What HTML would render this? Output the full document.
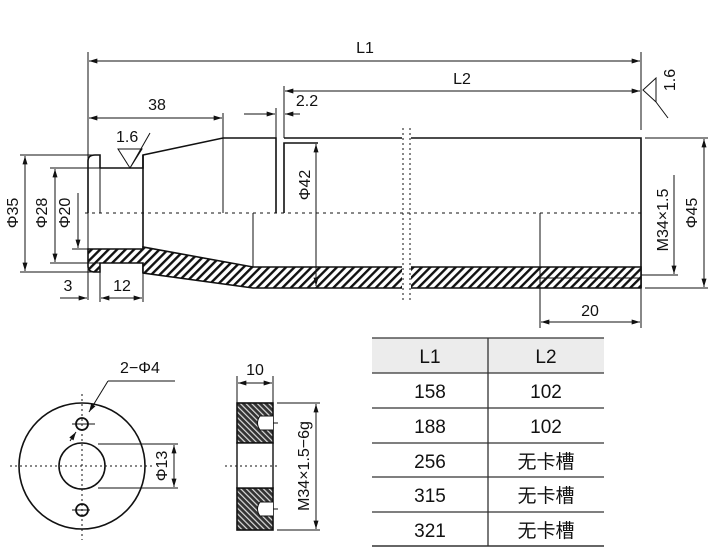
<!DOCTYPE html>
<html><head><meta charset="utf-8"><style>
body{margin:0;background:#fff}
svg{display:block}
text{font-family:"Liberation Sans",sans-serif;fill:#111}
</style></head><body>
<svg width="714" height="560" viewBox="0 0 714 560" xmlns="http://www.w3.org/2000/svg">
<defs>
<pattern id="h" width="6" height="6" patternUnits="userSpaceOnUse" patternTransform="rotate(45)">
<rect width="6" height="6" fill="#fff"/><rect width="2.4" height="6" fill="#111"/></pattern>
<pattern id="h2" width="4" height="4" patternUnits="userSpaceOnUse" patternTransform="rotate(-45)">
<rect width="4" height="4" fill="#333"/><rect width="1.2" height="4" fill="#ddd"/></pattern>
<marker id="a" viewBox="0 0 10 6" refX="10" refY="3" markerWidth="9" markerHeight="5" orient="auto-start-reverse" markerUnits="userSpaceOnUse"><path d="M0,0L10,3L0,6z" fill="#111"/></marker>
</defs>
<g stroke="#111" fill="none" stroke-width="1">
<line x1="88" y1="52" x2="88" y2="300"/>
<line x1="641" y1="52" x2="641" y2="130"/>
<line x1="89" y1="61" x2="640" y2="61" marker-start="url(#a)" marker-end="url(#a)"/>
<line x1="284" y1="86" x2="284" y2="138"/>
<line x1="285" y1="91" x2="640" y2="91" marker-start="url(#a)" marker-end="url(#a)"/>
<line x1="89" y1="118" x2="222" y2="118" marker-start="url(#a)" marker-end="url(#a)"/>
<line x1="223" y1="113" x2="223" y2="213"/>
<line x1="276" y1="108" x2="276" y2="138"/>
<line x1="244" y1="114" x2="275" y2="114" marker-end="url(#a)"/>
<line x1="300" y1="114" x2="285" y2="114" marker-end="url(#a)"/>
<path d="M88,213 L88,161 Q88,155 95,155 L100,155 L100,168 M100,168 L143,168 L143,155 L223,138 L276,138 L276,213 M284,213 L284,143 L318,143 M284,138 L402,138 M411,138 L641,138 L641,288" stroke-width="1.6"/>
<line x1="100" y1="168" x2="100" y2="213"/>
<line x1="143" y1="155" x2="143" y2="273" stroke-width="1.6"/>
<line x1="253" y1="213" x2="253" y2="267"/>
<path d="M88,249 L143,249 L143,247 L253,267 L641,267 L641,288 L253,288 L143,273 L143,263 L100,263 L100,272 L95,272 Q88,272 88,266 Z" fill="url(#h)" stroke-width="1.6"/>
<line x1="540" y1="278" x2="641" y2="278"/>
<line x1="72" y1="249" x2="88" y2="249"/>
<rect x="402" y="130" width="9" height="170" fill="#fff" stroke="none"/>
<line x1="403" y1="128" x2="403" y2="300" stroke-dasharray="2,3"/>
<line x1="410" y1="128" x2="410" y2="300" stroke-dasharray="2,3"/>
<line x1="85" y1="213" x2="645" y2="213" stroke-dasharray="3,4"/>
<line x1="20" y1="155" x2="92" y2="155"/>
<line x1="20" y1="272" x2="92" y2="272"/>
<line x1="25" y1="156" x2="25" y2="271" marker-start="url(#a)" marker-end="url(#a)"/>
<line x1="50" y1="168" x2="100" y2="168"/>
<line x1="50" y1="263" x2="100" y2="263"/>
<line x1="55" y1="169" x2="55" y2="262" marker-start="url(#a)" marker-end="url(#a)"/>
<line x1="78" y1="193" x2="78" y2="248" marker-end="url(#a)"/>
<line x1="100" y1="272" x2="100" y2="302"/>
<line x1="143" y1="273" x2="143" y2="302"/>
<line x1="60" y1="298" x2="87" y2="298" marker-end="url(#a)"/>
<line x1="120" y1="298" x2="101" y2="298" marker-end="url(#a)"/>
<line x1="105" y1="298" x2="142" y2="298" marker-end="url(#a)"/>
<line x1="316" y1="144" x2="316" y2="286" marker-start="url(#a)" marker-end="url(#a)"/>
<line x1="645" y1="138" x2="708" y2="138"/>
<line x1="645" y1="288" x2="708" y2="288"/>
<line x1="704" y1="139" x2="704" y2="287" marker-start="url(#a)" marker-end="url(#a)"/>
<line x1="641" y1="275" x2="678" y2="275"/>
<line x1="674" y1="175" x2="674" y2="274" marker-end="url(#a)"/>
<line x1="540" y1="213" x2="540" y2="328"/>
<line x1="641" y1="288" x2="641" y2="328"/>
<line x1="541" y1="322" x2="640" y2="322" marker-start="url(#a)" marker-end="url(#a)"/>
<path d="M118,149 L142,149 L130,168 Z M130,168 L150,133"/>
<path d="M643,90 L656,78 L656,102 Z M656,102 L668,118"/>
<circle cx="82" cy="466" r="63" stroke-width="1.6"/>
<circle cx="82" cy="466" r="23" stroke-width="1.6"/>
<circle cx="82" cy="424" r="6" stroke-width="1.8"/>
<circle cx="82" cy="510" r="6" stroke-width="1.8"/>
<line x1="72" y1="424" x2="95" y2="424"/><line x1="72" y1="510" x2="90" y2="510"/>
<line x1="10" y1="466" x2="155" y2="466" stroke-dasharray="2,3"/>
<line x1="82" y1="394" x2="82" y2="540" stroke-dasharray="2,3"/>
<line x1="98" y1="444" x2="178" y2="444"/>
<line x1="98" y1="488" x2="178" y2="488"/>
<line x1="174" y1="445" x2="174" y2="487" marker-start="url(#a)" marker-end="url(#a)"/>
<line x1="175" y1="381" x2="108" y2="381"/>
<path d="M108,381 L89,412" marker-end="url(#a)"/>
<line x1="70" y1="441" x2="76" y2="432" marker-end="url(#a)"/>
<rect x="237" y="403" width="36" height="40" fill="url(#h2)" stroke-width="1.6"/>
<rect x="237" y="488" width="36" height="42" fill="url(#h2)" stroke-width="1.6"/>
<rect x="237" y="443" width="36" height="45" fill="#fff" stroke-width="1.4"/>
<path d="M273,416 L260,416 Q255,423 260,430 L273,430" fill="#fff"/>
<path d="M273,502 L260,502 Q255,509 260,516 L273,516" fill="#fff"/>
<line x1="273" y1="423" x2="278" y2="423"/><line x1="273" y1="509" x2="278" y2="509"/>
<line x1="225" y1="466" x2="280" y2="466" stroke-dasharray="2,3"/>
<line x1="237" y1="376" x2="237" y2="403"/><line x1="273" y1="376" x2="273" y2="403"/>
<line x1="238" y1="383" x2="272" y2="383" marker-start="url(#a)" marker-end="url(#a)"/>
<line x1="277" y1="403" x2="320" y2="403"/><line x1="277" y1="530" x2="320" y2="530"/>
<line x1="316" y1="404" x2="316" y2="529" marker-start="url(#a)" marker-end="url(#a)"/>
</g>
<g font-size="16">
<text x="365" y="53" text-anchor="middle">L1</text>
<text x="462" y="84" text-anchor="middle">L2</text>
<text x="157" y="110" text-anchor="middle">38</text>
<text x="307" y="106" text-anchor="middle">2.2</text>
<text x="116" y="142">1.6</text>
<text x="68" y="291" text-anchor="middle">3</text>
<text x="122" y="291" text-anchor="middle">12</text>
<text x="590" y="316" text-anchor="middle">20</text>
<text transform="translate(18,213) rotate(-90)" text-anchor="middle">Φ35</text>
<text transform="translate(47,213) rotate(-90)" text-anchor="middle">Φ28</text>
<text transform="translate(70,213) rotate(-90)" text-anchor="middle">Φ20</text>
<text transform="translate(310,185) rotate(-90)" text-anchor="middle">Φ42</text>
<text transform="translate(697,213) rotate(-90)" text-anchor="middle">Φ45</text>
<text transform="translate(668,220) rotate(-90)" text-anchor="middle">M34×1.5</text>
<text transform="translate(675,80) rotate(-90)" text-anchor="middle">1.6</text>
<text x="140" y="373" text-anchor="middle">2−Φ4</text>
<text transform="translate(167,466) rotate(-90)" text-anchor="middle">Φ13</text>
<text x="255" y="375" text-anchor="middle">10</text>
<text transform="translate(309,466) rotate(-90)" text-anchor="middle">M34×1.5−6g</text>
</g>
<rect x="372" y="338" width="232" height="35" fill="#ececec"/>
<g stroke="#333" stroke-width="1.3">
<line x1="372" y1="338" x2="604" y2="338"/>
<line x1="372" y1="373" x2="604" y2="373"/>
<line x1="372" y1="408" x2="604" y2="408"/>
<line x1="372" y1="443" x2="604" y2="443"/>
<line x1="372" y1="477" x2="604" y2="477"/>
<line x1="372" y1="512" x2="604" y2="512"/>
<line x1="372" y1="546" x2="604" y2="546" stroke-width="1.6"/>
<line x1="488" y1="338" x2="488" y2="546"/>
</g>
<g font-size="19" text-anchor="middle" style="font-family:'Liberation Sans','Noto Sans CJK SC',sans-serif">
<text x="430" y="363">L1</text><text x="546" y="363">L2</text>
<text x="430" y="398">158</text><text x="546" y="398">102</text>
<text x="430" y="433">188</text><text x="546" y="433">102</text>
<text x="430" y="468">256</text><text x="546" y="468">无卡槽</text>
<text x="430" y="502">315</text><text x="546" y="502">无卡槽</text>
<text x="430" y="537">321</text><text x="546" y="537">无卡槽</text>
</g>
</svg>
</body></html>
